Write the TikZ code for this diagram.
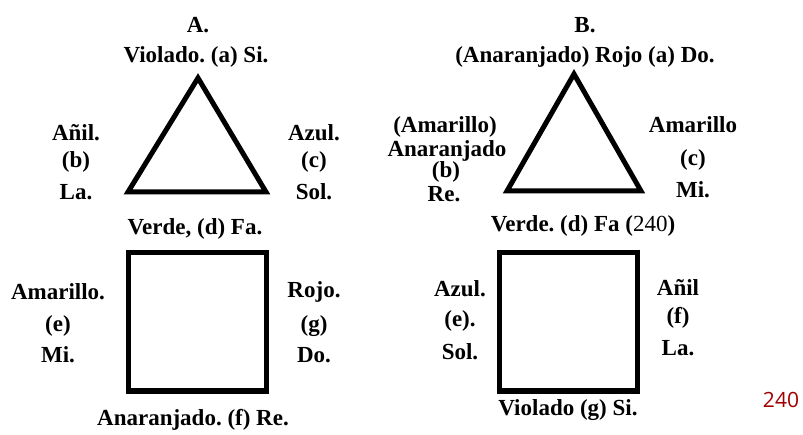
\documentclass[tikz,border=0pt]{standalone}
\usepackage{fontspec}
\setmainfont{Liberation Serif}
\newfontfamily\numfont{Liberation Serif}
\newfontfamily\pagefont{Open Sans}
\definecolor{pagered}{HTML}{A00000}
\frenchspacing
\begin{document}
\begin{tikzpicture}[x=1pt,y=-1pt,
  lbl/.style={font=\fontsize{23}{25}\selectfont\bfseries\frenchspacing, inner sep=0pt, anchor=center},
  figline/.style={line width=5pt, line join=miter, draw=black}]
\useasboundingbox (0,0) rectangle (803,435);
% --- A ---
\node[lbl] (Ahead) at (198,25) {A.};
\node[lbl] (Atop) at (196,57) {Violado. (a) Si.};
\coordinate (A1) at (198,78);
\coordinate (A2) at (128,192);
\coordinate (A3) at (266,192);
\draw[figline] (A1) -- (A2) -- (A3) -- cycle;
\node[lbl] (Ab1) at (76,133) {Añil.};
\node[lbl] (Ab2) at (76,162) {(b)};
\node[lbl] (Ab3) at (76,192) {La.};
\node[lbl] (Ac1) at (314,133) {Azul.};
\node[lbl] (Ac2) at (314,162) {(c)};
\node[lbl] (Ac3) at (314,192) {Sol.};
\node[lbl] (Ad) at (195,229) {Verde, (d) Fa.};
\coordinate (AS1) at (128,253);
\coordinate (AS2) at (266,391);
\draw[figline] (AS1) rectangle (AS2);
\node[lbl] (Ae1) at (58,292) {Amarillo.};
\node[lbl] (Ae2) at (58,326) {(e)};
\node[lbl] (Ae3) at (58,355) {Mi.};
\node[lbl] (Ag1) at (314,292) {Rojo.};
\node[lbl] (Ag2) at (314,326) {(g)};
\node[lbl] (Ag3) at (314,355) {Do.};
\node[lbl] (Af) at (193,420) {Anaranjado. (f) Re.};
% --- B ---
\node[lbl] (Bhead) at (585,25) {B.};
\node[lbl] (Btop) at (585,57) {(Anaranjado) Rojo (a) Do.};
\coordinate (B1) at (574,74);
\coordinate (B2) at (507,191);
\coordinate (B3) at (641,191);
\draw[figline] (B1) -- (B2) -- (B3) -- cycle;
\node[lbl] (Bb1) at (445,127) {(Amarillo)};
\node[lbl] (Bb2) at (447,151) {Anaranjado};
\node[lbl] (Bb3) at (446,172) {(b)};
\node[lbl] (Bb4) at (444,194) {Re.};
\node[lbl] (Bc1) at (693,125) {Amarillo};
\node[lbl] (Bc2) at (693,160) {(c)};
\node[lbl] (Bc3) at (693,190) {Mi.};
\node[lbl] (Bd) at (583,226) {Verde. (d) Fa ({\mdseries\numfont 240})};
\coordinate (BS1) at (499,253);
\coordinate (BS2) at (637,391);
\draw[figline] (BS1) rectangle (BS2);
\node[lbl] (Be1) at (460,289) {Azul.};
\node[lbl] (Be2) at (460,321) {(e).};
\node[lbl] (Be3) at (460,352) {Sol.};
\node[lbl] (Bf1) at (678,287) {Añil};
\node[lbl] (Bf2) at (678,318) {(f)};
\node[lbl] (Bf3) at (678,348) {La.};
\node[lbl] (Bg) at (568,410) {Violado (g) Si.};
\node[font=\pagefont\fontsize{21}{23}\selectfont, text=pagered, inner sep=0pt] (page) at (781,400) {240};
\end{tikzpicture}
\end{document}
